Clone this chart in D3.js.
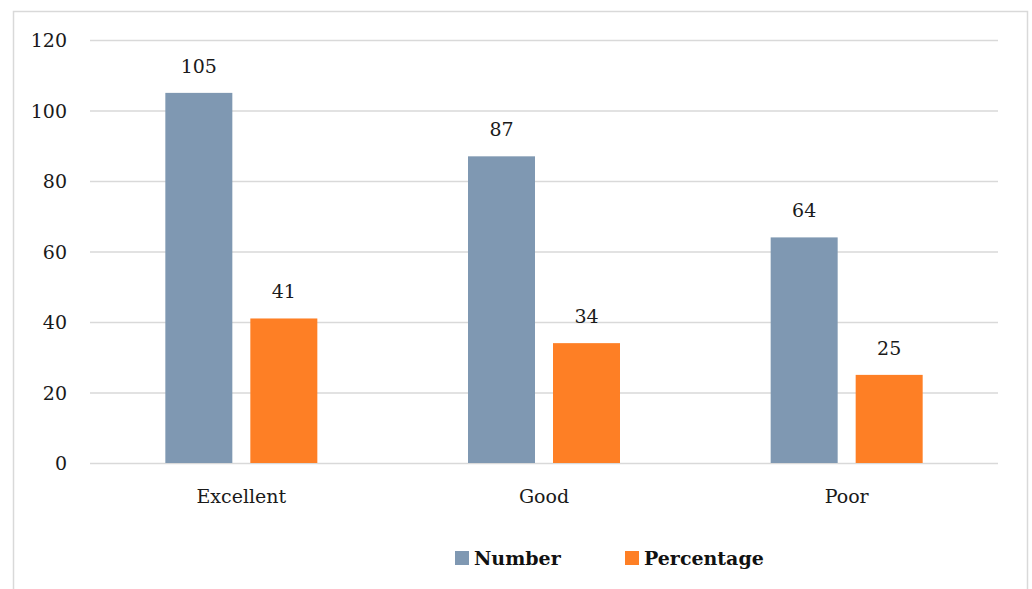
<!DOCTYPE html>
<html><head><meta charset="utf-8">
<script src="https://cdn.jsdelivr.net/npm/d3@7"></script>
<style>body{margin:0;background:#fff}svg{display:block}</style>
</head><body>
<script>
const categories = ["Excellent", "Good", "Poor"];
const seriesNames = ["Number", "Percentage"];
const numberValues = [105, 87, 64];
const percentageValues = [41, 34, 25];
const yTicks = [0, 20, 40, 60, 80, 100, 120];
const colors = ["#7f98b2", "#fe7f25"];

(function () {
const W = 1032, H = 589;
const svg = d3.select("body").append("svg").attr("width", W).attr("height", H);
const font = "'DejaVu Serif', 'Liberation Serif', serif";
const fs = 19;

svg.append("rect").attr("x", 13.5).attr("y", 11.5).attr("width", 1014).attr("height", 620)
  .attr("fill", "#fff").attr("stroke", "#d9d9d9").attr("stroke-width", 1.5);

const pLeft = 90, pRight = 998, pTop = 40, pBottom = 463;
const y = d3.scaleLinear().domain([0, 120]).range([pBottom, pTop]);
const x0 = d3.scaleBand().domain(categories).range([pLeft, pRight]).paddingInner(0).paddingOuter(0);
const x1 = d3.scaleBand().domain(seriesNames).range([0, 152]).paddingInner(18/85).paddingOuter(0);
const offset = (x0.bandwidth() - 152) / 2;

svg.append("g").selectAll("line").data(yTicks).join("line")
  .attr("x1", pLeft).attr("x2", pRight)
  .attr("y1", d => y(d) + 0.5).attr("y2", d => y(d) + 0.5)
  .attr("stroke", "#d9d9d9").attr("stroke-width", 1.3);

const yAxis = d3.axisLeft(y).tickValues(yTicks).tickSize(0).tickPadding(0);
const ga = svg.append("g").attr("transform", `translate(67,0)`).call(yAxis);
ga.select(".domain").remove();
ga.selectAll("text").attr("font-family", font).attr("font-size", fs).attr("fill", "#1a1a1a").attr("dy", "0.35em");

const data = categories.map((c, i) => ({cat: c, vals: [
  {s: "Number", v: numberValues[i]}, {s: "Percentage", v: percentageValues[i]}]}));

const groups = svg.append("g").selectAll("g").data(data).join("g")
  .attr("transform", d => `translate(${x0(d.cat) + offset},0)`);

groups.selectAll("rect").data(d => d.vals).join("rect")
  .attr("x", d => x1(d.s)).attr("width", x1.bandwidth())
  .attr("y", d => y(d.v)).attr("height", d => y(0) - y(d.v))
  .attr("fill", (d, i) => colors[i]);

groups.selectAll("text").data(d => d.vals).join("text")
  .attr("x", d => x1(d.s) + x1.bandwidth() / 2).attr("y", d => y(d.v) - 20)
  .attr("text-anchor", "middle").attr("font-family", font).attr("font-size", fs).attr("fill", "#1a1a1a")
  .text(d => d.v);

const xAxis = d3.axisBottom(x0).tickSize(0).tickPadding(0);
const gx = svg.append("g").attr("transform", `translate(0,${pBottom})`).call(xAxis);
gx.select(".domain").remove();
gx.selectAll("text").attr("font-family", font).attr("font-size", fs).attr("fill", "#1a1a1a")
  .attr("dy", 0).attr("y", 40);

const legendItems = [{name: "Number", x: 455}, {name: "Percentage", x: 625}];
const lg = svg.append("g");
legendItems.forEach((it, i) => {
  lg.append("rect").attr("x", it.x).attr("y", 551).attr("width", 14).attr("height", 14).attr("fill", colors[i]);
  lg.append("text").attr("x", it.x + 19).attr("y", 565).attr("font-family", font)
    .attr("font-weight", "bold").attr("font-size", fs).attr("fill", "#111").text(it.name);
});
})();
</script>
</body></html>
